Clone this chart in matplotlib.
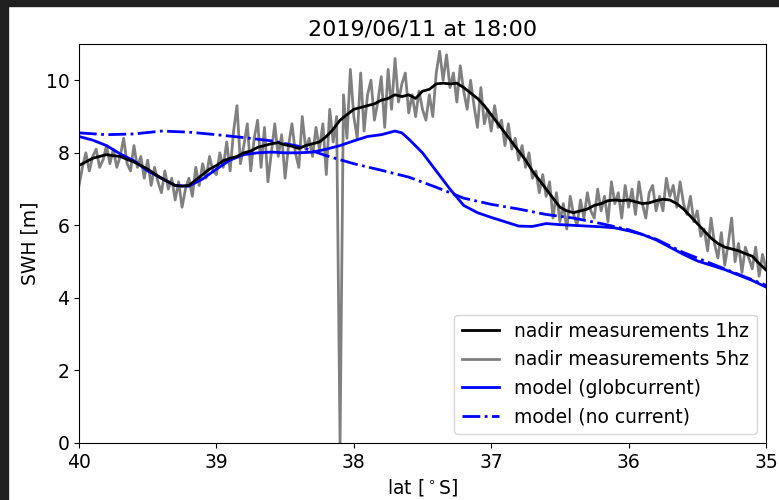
import numpy as np
import matplotlib
matplotlib.use("Agg")
import matplotlib.pyplot as plt
from matplotlib.patches import Rectangle

# 1hz nadir measurements, every 0.05 deg from 40 to 35 S
lat_1hz = np.round(np.arange(40.0, 34.999, -0.05), 2)
swh_1hz = [7.65, 7.75, 7.85, 7.9, 7.95, 7.92, 7.9, 7.82, 7.75, 7.65,
           7.55, 7.42, 7.3, 7.2, 7.1, 7.08, 7.1, 7.25, 7.4, 7.55,
           7.65, 7.78, 7.85, 7.9, 8.0, 8.05, 8.15, 8.2, 8.25, 8.28,
           8.22, 8.18, 8.12, 8.2, 8.25, 8.3, 8.45, 8.65, 8.9, 9.05,
           9.2, 9.25, 9.3, 9.35, 9.45, 9.5, 9.6, 9.55, 9.6, 9.5,
           9.7, 9.75, 9.9, 9.92, 9.9, 9.92, 9.8, 9.65, 9.5, 9.3,
           9.05, 8.8, 8.55, 8.3, 8.05, 7.8, 7.5, 7.25, 7.0, 6.75,
           6.5, 6.4, 6.35, 6.4, 6.45, 6.55, 6.6, 6.68, 6.7, 6.68,
           6.7, 6.65, 6.6, 6.62, 6.68, 6.72, 6.7, 6.6, 6.45, 6.25,
           6.05, 5.85, 5.65, 5.5, 5.4, 5.35, 5.3, 5.22, 5.15, 4.95,
           4.77]

# 5hz nadir measurements, every 0.025 deg
lat_5hz = np.round(np.arange(40.0, 34.999, -0.025), 3)
swh_5hz = [7.1, 7.6, 8.0, 7.5, 7.9, 8.1, 7.6, 7.8, 8.2, 7.7,
           8.1, 7.6, 7.9, 8.4, 7.7, 7.5, 8.2, 7.6, 7.9, 7.3,
           7.8, 7.1, 7.6, 7.2, 6.9, 7.5, 7.0, 7.3, 6.7, 7.2,
           6.5, 7.0, 7.3, 6.8, 7.6, 7.1, 7.7, 7.3, 7.9, 7.5,
           7.4, 8.0, 7.6, 8.3, 7.5, 8.6, 9.3, 7.7, 8.2, 8.8,
           7.5, 8.4, 8.9, 7.6, 8.7, 7.2, 8.0, 8.8, 7.9, 8.5,
           7.3, 8.2, 8.8, 8.0, 7.6, 9.0, 8.1, 8.4, 7.9, 8.7,
           8.1, 8.8, 7.4, 9.2, 8.3, 9.0, 0.0, 9.6, 8.4, 10.3,
           9.0, 8.4, 10.2, 8.6, 9.6, 10.0, 8.9, 9.4, 10.1, 8.7,
           10.3, 9.2, 10.6, 9.4, 9.9, 10.2, 9.1, 9.6, 9.0, 9.7,
           9.2, 8.9, 9.6, 9.0, 10.2, 10.8, 10.0, 10.7, 9.8, 10.2,
           9.4, 10.4, 9.7, 9.2, 10.0, 9.3, 8.7, 9.8, 8.8, 9.2,
           8.6, 9.3, 8.7, 8.9, 8.2, 8.8, 8.1, 8.4, 7.8, 8.2,
           7.6, 8.0, 7.3, 7.5, 6.9, 7.4, 6.8, 7.2, 6.2, 6.9,
           6.1, 6.6, 5.9, 6.8, 6.3, 6.0, 6.7, 6.2, 6.9, 6.4,
           6.2, 7.0, 6.4, 6.8, 6.1, 7.2, 6.6, 6.9, 6.2, 7.1,
           6.5, 7.0, 6.3, 7.2, 6.6, 6.2, 6.9, 7.1, 6.4, 6.8,
           6.4, 7.3, 6.8, 7.1, 6.5, 7.2, 6.6, 6.3, 6.8, 6.1,
           6.4, 5.7, 5.9, 5.3, 6.2, 5.5, 5.1, 5.8, 4.9, 5.5,
           6.2, 5.0, 5.5, 4.7, 5.4, 5.1, 4.8, 5.4, 4.6, 5.2,
           4.8]

# model with globcurrent
lat_glob = [40.0, 39.9, 39.8, 39.7, 39.6, 39.5, 39.4, 39.3, 39.2, 39.1,
            39.0, 38.9, 38.8, 38.7, 38.6, 38.5, 38.4, 38.3, 38.2, 38.1,
            38.0, 37.9, 37.8, 37.7, 37.65, 37.6, 37.5, 37.4, 37.3, 37.2,
            37.1, 37.0, 36.9, 36.8, 36.7, 36.6, 36.5, 36.4, 36.3, 36.2,
            36.1, 36.0, 35.9, 35.8, 35.7, 35.6, 35.5, 35.4, 35.3, 35.2,
            35.1, 35.0]
swh_glob = [8.45, 8.35, 8.2, 7.97, 7.78, 7.5, 7.3, 7.1, 7.08, 7.28,
            7.55, 7.8, 7.95, 8.0, 8.02, 8.0, 8.0, 8.02, 8.1, 8.2,
            8.33, 8.45, 8.5, 8.6, 8.55, 8.38, 8.0, 7.5, 7.0, 6.55,
            6.35, 6.22, 6.1, 5.98, 5.97, 6.05, 6.02, 6.0, 5.98, 5.96,
            5.93, 5.85, 5.75, 5.6, 5.4, 5.2, 5.02, 4.9, 4.78, 4.63,
            4.48, 4.3]

# model without current
lat_nocur = [40.0, 39.8, 39.6, 39.4, 39.2, 39.0, 38.8, 38.6, 38.4, 38.2,
             38.0, 37.8, 37.6, 37.4, 37.2, 37.0, 36.8, 36.6, 36.4, 36.2,
             36.0, 35.8, 35.6, 35.4, 35.2, 35.0]
swh_nocur = [8.55, 8.5, 8.52, 8.6, 8.57, 8.5, 8.42, 8.33, 8.18, 7.92,
             7.7, 7.52, 7.33, 7.05, 6.75, 6.58, 6.45, 6.3, 6.2, 6.05,
             5.88, 5.62, 5.25, 4.95, 4.65, 4.35]

plt.rcParams['font.size'] = 13.5

fig = plt.figure(figsize=(7.79, 5.0), dpi=100)
ax = fig.add_axes([0.1014, 0.114, 0.8819, 0.798])

h5, = ax.plot(lat_5hz, swh_5hz, color='gray', lw=2, zorder=1,
              label='nadir measurements 5hz')
h1, = ax.plot(lat_1hz, swh_1hz, color='k', lw=2, zorder=3,
              label='nadir measurements 1hz')
hg, = ax.plot(lat_glob, swh_glob, color='b', lw=2, zorder=2,
              label='model (globcurrent)')
hn, = ax.plot(lat_nocur, swh_nocur, color='b', ls='-.', lw=2, zorder=2,
              label='model (no current)')

ax.set_xlim(40, 35)
ax.set_ylim(0, 11)
ax.set_xticks([40, 39, 38, 37, 36, 35])
ax.set_yticks([0, 2, 4, 6, 8, 10])
ax.set_xlabel(r'lat [$^\circ$S]')
ax.set_ylabel('SWH [m]')
ax.set_title('2019/06/11 at 18:00', fontsize=16)
ax.legend(handles=[h1, h5, hg, hn], loc='lower right')

# dark frame of the screenshot on the left and top
fig.patches.append(Rectangle((0, 0), 8 / 779, 1, transform=fig.transFigure,
                             color='#202020', zorder=10))
fig.patches.append(Rectangle((0, 1 - 6 / 500), 1, 6 / 500,
                             transform=fig.transFigure,
                             color='#202020', zorder=10))

fig.savefig('out.png', dpi=100)
